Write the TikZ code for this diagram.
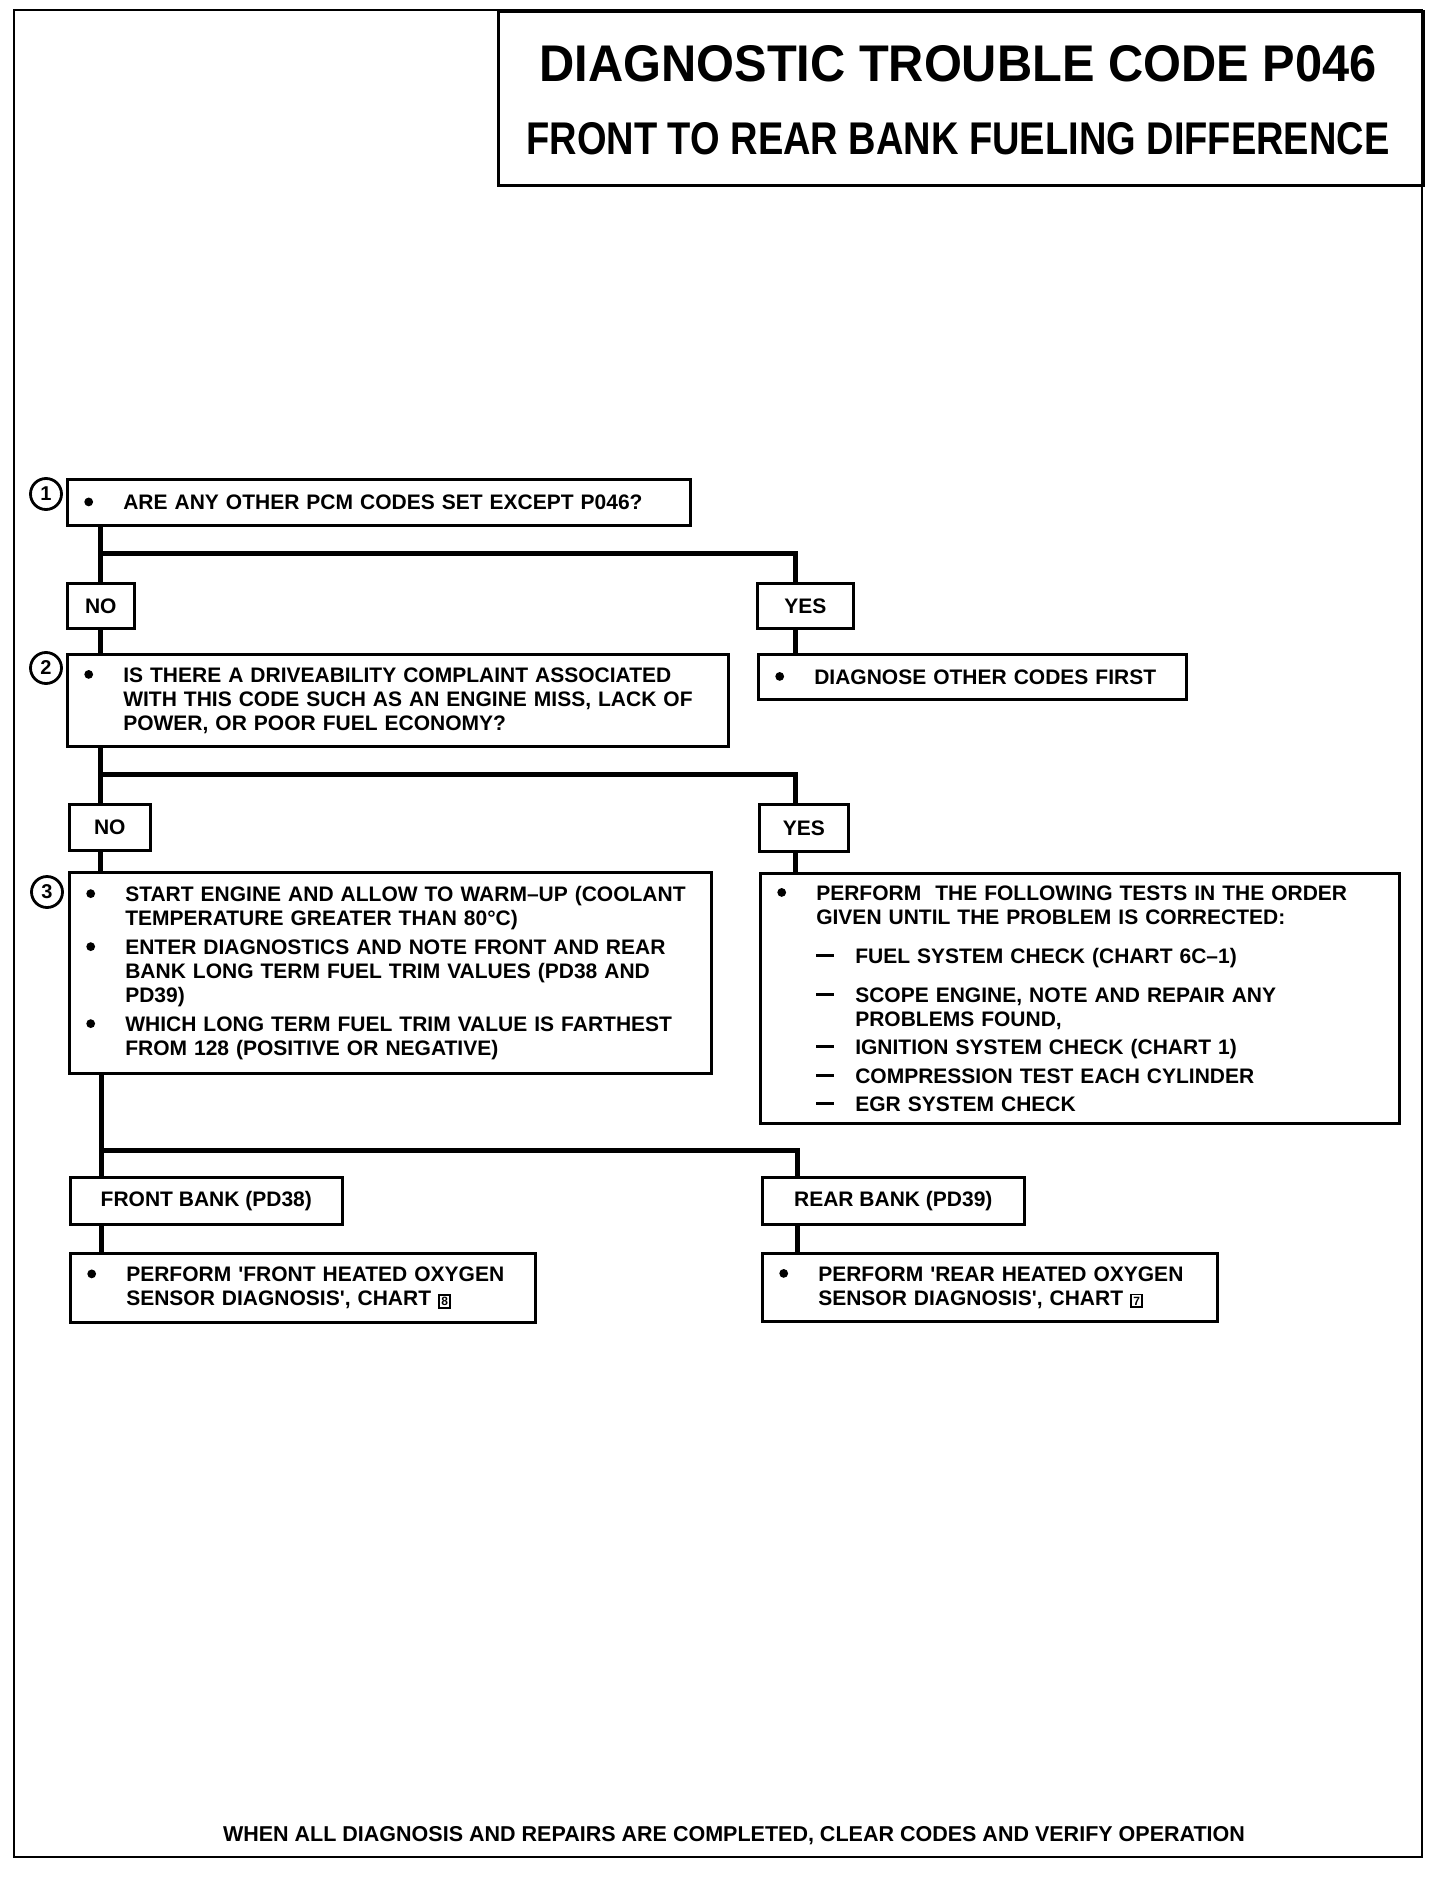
\documentclass[tikz,border=0pt]{standalone}
\usepackage{fontspec}
\setmainfont{Liberation Sans}
\newcommand{\bodyf}{\fontsize{21}{24}\selectfont\bfseries}
\newcommand{\bdot}{\raisebox{3.2pt}{\tikz\fill (0,0) circle (4.4pt);}}
\newcommand{\bl}[1]{\mbox{\makebox[39pt][l]{\bdot}#1}}
\newcommand{\cl}[1]{\mbox{\hspace*{39pt}#1}}
\newcommand{\dl}[1]{\mbox{\hspace*{39pt}\makebox[39pt][l]{\rule[6pt]{18pt}{3.5pt}}#1}}
\newcommand{\dcl}[1]{\mbox{\hspace*{78pt}#1}}
\newcommand{\chartno}[1]{{\setlength\fboxsep{1.4pt}\setlength\fboxrule{1.8pt}\fbox{\fontsize{12}{12}\selectfont #1}}}
\newcommand{\sq}{\textquotesingle}
\tikzset{
  frame/.style={draw, line width=2.4pt},
  titlebox/.style={draw, line width=3.2pt, anchor=north west, inner sep=0pt},
  cbox/.style={draw, line width=2.6pt, anchor=north west, inner xsep=17pt, inner ysep=0pt, align=left, font=\bodyf},
  lbl/.style={draw, line width=2.6pt, anchor=north west, inner sep=0pt, font=\bodyf},
  num/.style={draw, circle, line width=2.8pt, minimum size=31pt, inner sep=0pt, font=\fontsize{20}{20}\selectfont\bfseries},
  conn/.style={line width=5pt},
  ttl/.style={inner sep=0pt, font=\bfseries}
}
\begin{document}
\begin{tikzpicture}[x=1pt,y=-1pt]
\useasboundingbox (0,0) rectangle (1440,1878);
% outer frame and title block
\draw[frame] (14,10) rectangle (1422,1857);
\node[titlebox, minimum width=925pt, minimum height=174pt] (title) at (497,10) {};
\node[ttl] (t1) at (958,64) {\resizebox{837pt}{36pt}{DIAGNOSTIC TROUBLE CODE P046}};
\node[ttl] (t2) at (958,139) {\resizebox{863pt}{32pt}{FRONT TO REAR BANK FUELING DIFFERENCE}};

% step 1
\node[num] (c1) at (46,494) {1};
\node[cbox, text width=589pt, minimum height=46pt] (b1) at (66,478) {\bl{ARE ANY OTHER PCM CODES SET EXCEPT P046?}};
\node[lbl, minimum width=67pt, minimum height=45pt] (no1) at (66,582) {NO};
\node[lbl, minimum width=96pt, minimum height=45pt] (yes1) at (756,582) {YES};
\node[cbox, text width=394pt, minimum height=45pt] (d1) at (757,653) {\bl{DIAGNOSE OTHER CODES FIRST}};

% step 2
\node[num] (c2) at (46,668) {2};
\node[cbox, text width=627pt, minimum height=92pt] (b2) at (66,653) {\bl{IS THERE A DRIVEABILITY COMPLAINT ASSOCIATED}\\
\cl{WITH THIS CODE SUCH AS AN ENGINE MISS, LACK OF}\\
\cl{POWER, OR POOR FUEL ECONOMY?}};
\node[lbl, minimum width=81pt, minimum height=46pt] (no2) at (68,803) {NO};
\node[lbl, minimum width=89pt, minimum height=47pt] (yes2) at (758,803) {YES};

% step 3
\node[num] (c3) at (47,892) {3};
\node[cbox, text width=608pt, minimum height=201pt] (b3) at (68,871) {\bl{START ENGINE AND ALLOW TO WARM–UP (COOLANT}\\
\cl{TEMPERATURE GREATER THAN 80°C)}\\[5pt]
\bl{ENTER DIAGNOSTICS AND NOTE FRONT AND REAR}\\
\cl{BANK LONG TERM FUEL TRIM VALUES (PD38 AND}\\
\cl{PD39)}\\[5pt]
\bl{WHICH LONG TERM FUEL TRIM VALUE IS FARTHEST}\\
\cl{FROM 128 (POSITIVE OR NEGATIVE)}};
\node[cbox, text width=605pt, minimum height=250pt] (tests) at (759,872) {\bl{PERFORM\ \ THE FOLLOWING TESTS IN THE ORDER}\\
\cl{GIVEN UNTIL THE PROBLEM IS CORRECTED:}\\[15pt]
\dl{FUEL SYSTEM CHECK (CHART 6C–1)}\\[15pt]
\dl{SCOPE ENGINE, NOTE AND REPAIR ANY}\\
\dcl{PROBLEMS FOUND,}\\[4pt]
\dl{IGNITION SYSTEM CHECK (CHART 1)}\\[5pt]
\dl{COMPRESSION TEST EACH CYLINDER}\\[4pt]
\dl{EGR SYSTEM CHECK}};

% banks
\node[lbl, minimum width=272pt, minimum height=47pt] (front) at (69,1176) {FRONT BANK (PD38)};
\node[lbl, minimum width=262pt, minimum height=47pt] (rear) at (761,1176) {REAR BANK (PD39)};
\node[cbox, text width=431pt, minimum height=69pt] (fp) at (69,1252) {\bl{PERFORM \sq FRONT HEATED OXYGEN}\\
\cl{SENSOR DIAGNOSIS\sq, CHART \chartno{8}}};
\node[cbox, text width=421pt, minimum height=68pt] (rp) at (761,1252) {\bl{PERFORM \sq REAR HEATED OXYGEN}\\
\cl{SENSOR DIAGNOSIS\sq, CHART \chartno{7}}};

% footer
\node[ttl, font=\bfseries] (foot) at (734,1836) {\resizebox{1022pt}{!}{\fontsize{21}{24}\selectfont WHEN ALL DIAGNOSIS AND REPAIRS ARE COMPLETED, CLEAR CODES AND VERIFY OPERATION}};

% connectors
\coordinate (tr) at (100,0);
\coordinate (trb) at (101,0);
\coordinate (h1) at (795,553);
\coordinate (h2) at (795,774);
\coordinate (h3) at (797,1150);
\draw[conn] (b1.south -| tr) -- (no1.north -| tr);
\draw[conn] (b1.south -| tr) |- (h1) -- (yes1.north -| h1);
\draw[conn] (no1.south -| tr) -- (b2.north -| tr);
\draw[conn] (yes1.south -| h1) -- (d1.north -| h1);
\draw[conn] (b2.south -| tr) -- (no2.north -| tr);
\draw[conn] (b2.south -| tr) |- (h2) -- (yes2.north -| h2);
\draw[conn] (no2.south -| tr) -- (b3.north -| tr);
\draw[conn] (yes2.south -| h2) -- (tests.north -| h2);
\draw[conn] (b3.south -| trb) -- (front.north -| trb);
\draw[conn] (b3.south -| trb) |- (h3) -- (rear.north -| h3);
\draw[conn] (front.south -| trb) -- (fp.north -| trb);
\draw[conn] (rear.south -| h3) -- (rp.north -| h3);
\end{tikzpicture}
\end{document}
